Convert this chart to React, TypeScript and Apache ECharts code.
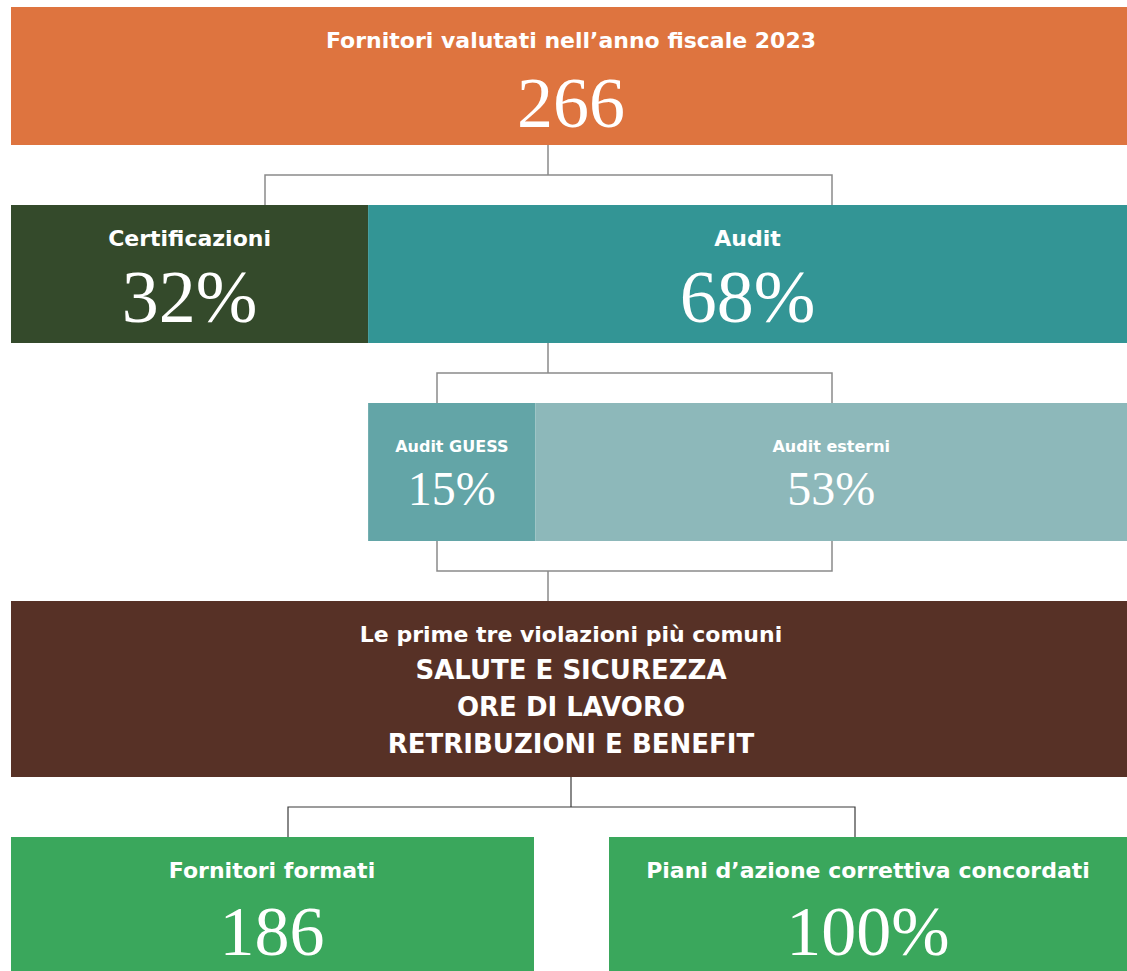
import React, { useEffect, useRef } from "react";
import * as echarts from "echarts";

// ---- data ----
const totalTitle = "Fornitori valutati nell’anno fiscale 2023";
const totalSuppliers = 266;
const rowNames = ["Tipologia", "Audit"];
const splitNames = ["Certificazioni", "Audit"];
const splitValues = [32, 68];
const auditNames = ["Audit GUESS", "Audit esterni"];
const auditValues = [15, 53];
const violationsTitle = "Le prime tre violazioni più comuni";
const violations = ["SALUTE E SICUREZZA", "ORE DI LAVORO", "RETRIBUZIONI E BENEFIT"];
const outcomeNames = ["Fornitori formati", "Piani d’azione correttiva concordati"];
const outcomeValues = ["186", "100%"];

const C = {
  orange: "#DE743F",
  dark: "#344A2B",
  teal: "#339595",
  guess: "#63A5A7",
  ext: "#8DB8BA",
  brown: "#573126",
  green: "#3AA75C",
  line: "#8a8a8a",
  lineDark: "#3a3a3a",
};
const SANS = "'DejaVu Sans', Lato, sans-serif";
const SERIF = "'Liberation Serif', 'DejaVu Serif', serif";

function barLabel(name: string, v: number, big: boolean) {
  return {
    show: true,
    position: "inside",
    offset: [0, big ? 8 : 5],
    formatter: `{t|${name}}\n{v|${v}%}`,
    rich: {
      t: {
        fontFamily: SANS,
        fontWeight: "bold",
        fontSize: big ? 22 : 16,
        color: "#fff",
        lineHeight: big ? 30 : 22,
        align: "center",
      },
      v: {
        fontFamily: SERIF,
        fontSize: big ? 74 : 48,
        color: "#fff",
        lineHeight: big ? 88 : 62,
        align: "center",
      },
    },
  };
}

export default function App() {
  const ref = useRef<HTMLDivElement>(null);
  useEffect(() => {
    document.body.style.margin = "0";
    const chart = echarts.init(ref.current!, null, { renderer: "svg" });
    const W = 1127;
    const L = 11;
    const gray = { stroke: C.line, lineWidth: 1.5, fill: null };
    const dark = { stroke: C.lineDark, lineWidth: 1.2, fill: null };
    const txt = (x: number, y: number, text: string, size: number, serif = false) => ({
      type: "text",
      x,
      y,
      style: {
        text,
        fill: "#fff",
        fontFamily: serif ? SERIF : SANS,
        fontWeight: serif ? "normal" : "bold",
        fontSize: size,
        textAlign: "center",
        textVerticalAlign: "middle",
      },
    });
    const option: any = {
      animation: false,
      grid: { left: L, width: W - L, top: 175, height: 396, containLabel: false },
      xAxis: { type: "value", min: 0, max: 100, show: false },
      yAxis: { type: "category", data: rowNames, inverse: true, show: false },
      series: [
        {
          type: "bar",
          stack: "s",
          barWidth: 138,
          silent: true,
          itemStyle: { color: "transparent" },
          data: [0, splitValues[0]],
        },
        {
          type: "bar",
          stack: "s",
          barWidth: 138,
          itemStyle: { color: C.dark },
          data: [{ value: splitValues[0], label: barLabel(splitNames[0], splitValues[0], true) }, 0],
        },
        {
          type: "bar",
          stack: "s",
          barWidth: 138,
          itemStyle: { color: C.guess },
          data: [0, { value: auditValues[0], label: barLabel(auditNames[0], auditValues[0], false) }],
        },
        {
          type: "bar",
          stack: "s",
          barWidth: 138,
          itemStyle: { color: C.teal },
          data: [{ value: splitValues[1], label: barLabel(splitNames[1], splitValues[1], true) }, 0],
        },
        {
          type: "bar",
          stack: "s",
          barWidth: 138,
          itemStyle: { color: C.ext },
          data: [0, { value: auditValues[1], label: barLabel(auditNames[1], auditValues[1], false) }],
        },
      ],
      graphic: [
        { type: "rect", shape: { x: L, y: 7, width: W - L, height: 138 }, style: { fill: C.orange } },
        txt(571, 40, totalTitle, 22),
        txt(571, 103, String(totalSuppliers), 72, true),
        // connectors
        { type: "line", shape: { x1: 548, y1: 145, x2: 548, y2: 175 }, style: gray },
        { type: "polyline", shape: { points: [[265, 205], [265, 175], [832, 175], [832, 205]] }, style: gray },
        { type: "line", shape: { x1: 548, y1: 343, x2: 548, y2: 373 }, style: gray },
        { type: "polyline", shape: { points: [[437, 403], [437, 373], [832, 373], [832, 403]] }, style: gray },
        { type: "polyline", shape: { points: [[437, 541], [437, 571], [832, 571], [832, 541]] }, style: gray },
        { type: "line", shape: { x1: 548, y1: 571, x2: 548, y2: 601 }, style: gray },
        // violations
        { type: "rect", shape: { x: L, y: 601, width: W - L, height: 176 }, style: { fill: C.brown } },
        txt(571, 634, violationsTitle, 22),
        txt(571, 670, violations[0], 26),
        txt(571, 707, violations[1], 26),
        txt(571, 744, violations[2], 26),
        { type: "line", shape: { x1: 571, y1: 777, x2: 571, y2: 807 }, style: dark },
        { type: "polyline", shape: { points: [[288, 837], [288, 807], [855, 807], [855, 837]] }, style: dark },
        // outcomes
        { type: "rect", shape: { x: L, y: 837, width: 523, height: 134 }, style: { fill: C.green } },
        { type: "rect", shape: { x: 609, y: 837, width: 518, height: 134 }, style: { fill: C.green } },
        txt(272, 870, outcomeNames[0], 22),
        txt(272, 931, outcomeValues[0], 70, true),
        txt(868, 870, outcomeNames[1], 22),
        txt(868, 931, outcomeValues[1], 70, true),
      ],
    };
    chart.setOption(option);
    return () => chart.dispose();
  }, []);
  return <div ref={ref} style={{ width: 1127, height: 971 }} />;
}
